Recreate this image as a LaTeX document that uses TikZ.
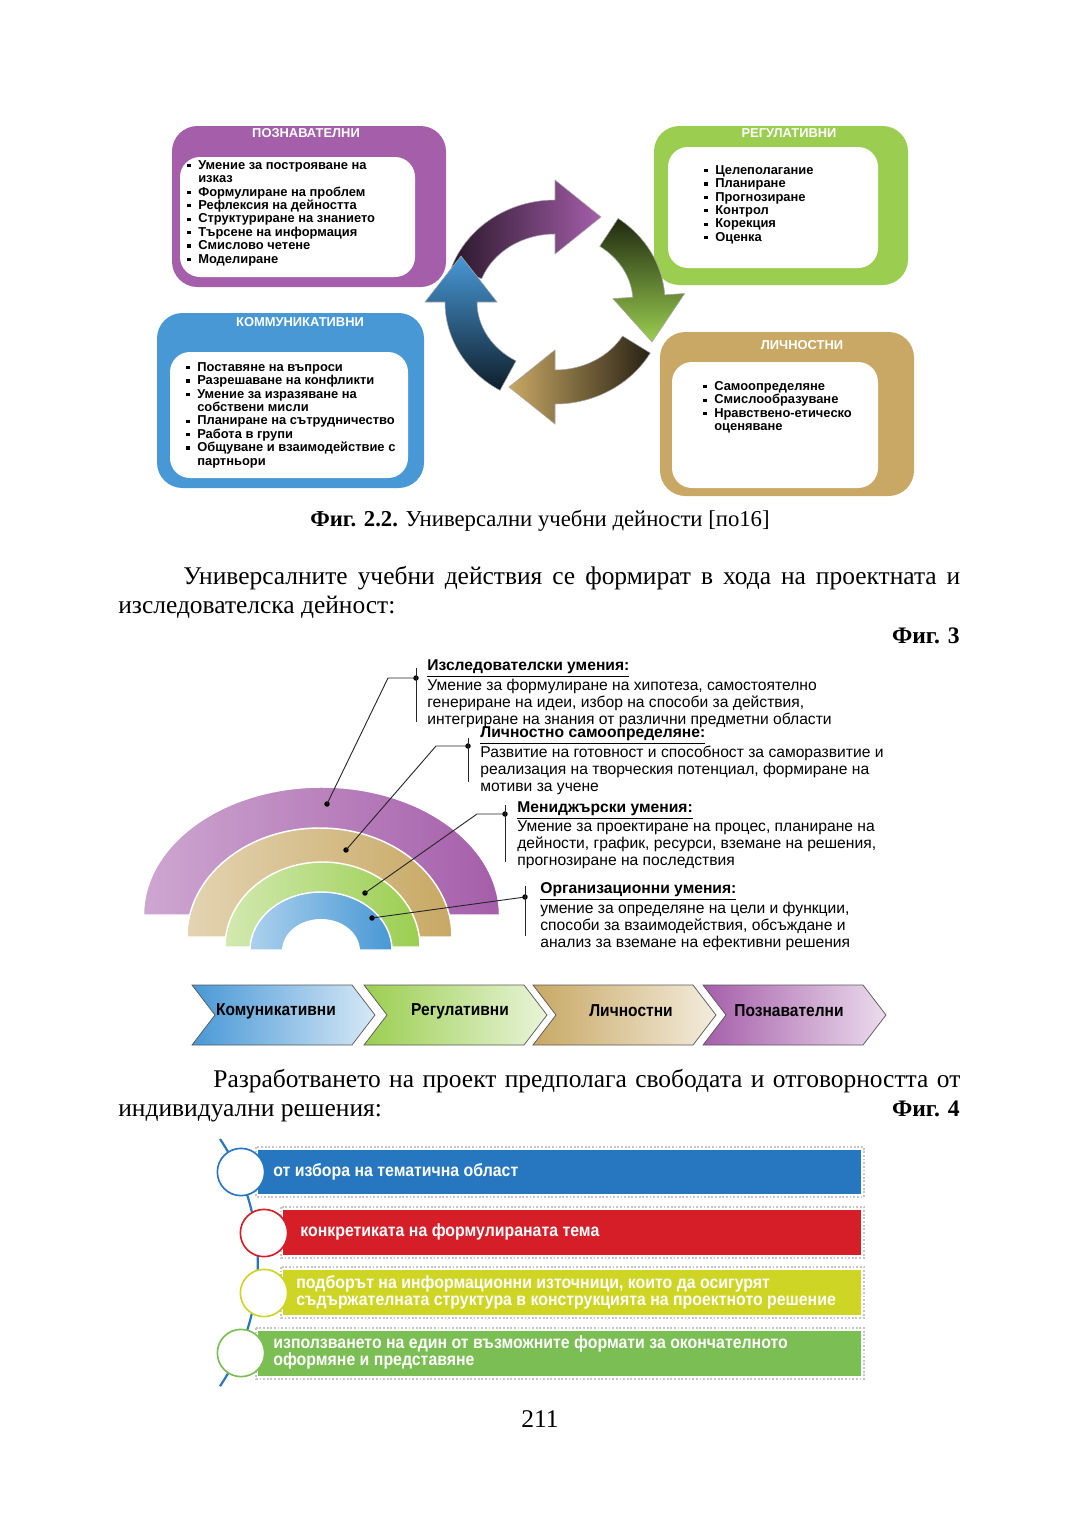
\documentclass[tikz,border=0pt]{standalone}
\usepackage{fontspec}
\setmainfont{Liberation Serif}
\newfontfamily\arialfont{Liberation Sans}
\newfontfamily\narrowfont{Liberation Sans}[FakeStretch=0.9]
\usetikzlibrary{positioning, calc}
\definecolor{PoznPurple}{RGB}{165, 94, 170}
\definecolor{RegGreen}{RGB}{155, 206, 80}
\definecolor{KomBlue}{RGB}{72, 152, 214}
\definecolor{LichTan}{RGB}{200, 168, 100}
\definecolor{BarBlue}{RGB}{38, 118, 192}
\definecolor{BarRed}{RGB}{214, 30, 40}
\definecolor{BarYellow}{RGB}{206, 213, 36}
\definecolor{BarGreen}{RGB}{122, 190, 84}

\tikzset{
  boxouter/.style={fill=#1, rounded corners=14pt},
  boxinner/.style={fill=white, rounded corners=11pt},
  boxtitle/.style={text=white, inner sep=0pt, font=\arialfont\bfseries\fontsize{7.1}{8}\selectfont},
  boxlist/.style={anchor=north west, align=left, inner sep=0pt, font=\arialfont\bfseries\fontsize{7.1}{7.37}\selectfont},
  skilltext/.style={anchor=north west, align=left, inner sep=0pt, font=\arialfont\fontsize{8.6}{9.4}\selectfont},
  calloutline/.style={black!85, line width=0.5pt},
  calloutdot/.style={circle, fill=black, inner sep=0pt, minimum size=3pt},
  chevlabel/.style={inner sep=0pt, font=\narrowfont\bfseries\fontsize{9.5}{11}\selectfont},
  bartext/.style={anchor=west, align=left, inner sep=0pt, text=white, font=\narrowfont\bfseries\fontsize{9.7}{9.35}\selectfont},
  barring/.style={circle, fill=white, draw=#1, line width=0.9pt, minimum size=26pt, inner sep=0pt},
  bodyline/.style={anchor=base west, inner sep=0pt, font=\fontsize{14}{16}\selectfont},
  figlabel/.style={anchor=base east, inner sep=0pt, font=\bfseries\fontsize{13}{16}\selectfont},
}

% square bullet for the lists
\newcommand{\sqb}{\makebox[6pt][l]{\raisebox{1.1pt}{\rule{1.8pt}{1.8pt}}}}
% one arrow of the cycle: tail angle, head angle, shading
\newcommand{\cyclearrow}[3]{%
  \shade[shift={(555,302)}, #3, draw=gray!70, line width=0.3pt]
    (#1:110 and 102) arc[start angle=#1, end angle=#2, x radius=110, y radius=102]
    -- (#2:130 and 122) -- ({94*cos(#2)+46*cos(#2+90)}, {85*sin(#2)+46*sin(#2+90)})
    -- (#2:58 and 48) -- (#2:78 and 68)
    arc[start angle=#2, end angle=#1, x radius=78, y radius=68] -- cycle;}

\begin{document}
\begin{tikzpicture}[x=0.55pt, y=-0.55pt]
  \fill[white] (0,0) rectangle (1080,1536);
  \useasboundingbox (0,0) rectangle (1080,1536);

  % Fig 2.2 -- four boxes
  \fill[boxouter=PoznPurple] (172,126) rectangle (446,287);
  \fill[boxinner] (180,157) rectangle (415,277);
  \fill[boxouter=RegGreen] (654,126) rectangle (908,285);
  \fill[boxinner] (668,147) rectangle (878,268);
  \fill[boxouter=KomBlue] (157,313) rectangle (424,488);
  \fill[boxinner] (170,352) rectangle (408,478);
  \fill[boxouter=LichTan] (660,332) rectangle (914,496);
  \fill[boxinner] (672,362) rectangle (878,488);

  \node[boxtitle] (poznTitle) at (306,133) {ПОЗНАВАТЕЛНИ};
  \node[boxtitle] (regTitle) at (789,133) {РЕГУЛАТИВНИ};
  \node[boxtitle] (komTitle) at (300,322) {КОММУНИКАТИВНИ};
  \node[boxtitle] (lichTitle) at (802,345) {ЛИЧНОСТНИ};

  \node[boxlist] (poznList) at (187,160) {\sqb Умение за построяване на\\ \hspace*{6pt}изказ\\
    \sqb Формулиране на проблем\\ \sqb Рефлексия  на дейността\\ \sqb Структуриране  на знанието\\
    \sqb Търсене на информация\\ \sqb Смислово четене\\ \sqb Моделиране};
  \node[boxlist] (regList) at (704,165) {\sqb Целеполагание\\ \sqb Планиране\\ \sqb Прогнозиране\\
    \sqb Контрол\\ \sqb Корекция\\ \sqb Оценка};
  \node[boxlist] (komList) at (186,362) {\sqb Поставяне на въпроси\\ \sqb Разрешаване на конфликти\\
    \sqb Умение за изразяване на\\ \hspace*{6pt}собствени  мисли\\ \sqb Планиране на сътрудничество\\
    \sqb Работа в групи\\ \sqb Общуване и взаимодействие с\\ \hspace*{6pt}партньори};
  \node[boxlist] (lichList) at (703,381) {\sqb Самоопределяне\\ \sqb Смислообразуване\\
    \sqb Нравствено-етическо\\ \hspace*{6pt}оценяване};

  % cycle in the middle
  \cyclearrow{-160}{-90}{left color=PoznPurple!25!black, right color=PoznPurple}
  \cyclearrow{-55}{-4}{top color=RegGreen!20!black, bottom color=RegGreen}
  \cyclearrow{30}{90}{right color=LichTan!20!black, left color=LichTan}
  \cyclearrow{120}{180}{bottom color=KomBlue!20!black, top color=KomBlue}

  \node[anchor=base, inner sep=0pt, font=\fontsize{12.5}{15}\selectfont] (cap22) at (540,526)
    {\textbf{Фиг. 2.2.} Универсални учебни дейности [по16]};

  \node[bodyline] (par1a) at (183,584) {\makebox[427.35pt][s]{Универсалните учебни действия се формират в хода на проектната и}};
  \node[bodyline] (par1b) at (118,613) {изследователска  дейност:};
  \node[figlabel] (fig3) at (960,643) {Фиг. 3};

  % Fig 3 -- half rings
  \shade[left color=PoznPurple!55!white, right color=PoznPurple, draw=white, line width=0.8pt]
    (143.5,915) arc[start angle=180, end angle=360, x radius=178, y radius=128] -- cycle;
  \shade[left color=LichTan!50!white, right color=LichTan, draw=white, line width=0.8pt]
    (187,937) arc[start angle=180, end angle=360, x radius=132.5, y radius=109] -- cycle;
  \shade[left color=RegGreen!45!white, right color=RegGreen, draw=white, line width=0.8pt]
    (225,947) arc[start angle=180, end angle=360, x radius=97.5, y radius=85] -- cycle;
  \shade[left color=KomBlue!45!white, right color=KomBlue, draw=white, line width=0.8pt]
    (250,950) arc[start angle=180, end angle=360, x radius=71, y radius=58] -- cycle;
  \fill[white] (282,951) arc[start angle=180, end angle=360, x radius=39, y radius=32] -- cycle;

  \node[calloutdot] (d1) at (327,804) {};
  \node[calloutdot] (d2) at (346,850) {};
  \node[calloutdot] (d3) at (365,893) {};
  \node[calloutdot] (d4) at (372,918) {};
  \node[calloutdot] (j1) at (416,678) {};
  \node[calloutdot] (j2) at (468,746) {};
  \node[calloutdot] (j3) at (505,814) {};
  \node[calloutdot] (j4) at (525,897) {};
  \coordinate (k1) at (388,678);
  \coordinate (k2) at (436,746);
  \coordinate (k3) at (477,814);
  \draw[calloutline] (d1.center) -- (k1) -- (j1.center);
  \draw[calloutline] (d2.center) -- (k2) -- (j2.center);
  \draw[calloutline] (d3.center) -- (k3) -- (j3.center);
  \draw[calloutline] (d4.center) -- (j4.center);
  \draw[calloutline] (416,668) -- (416,722);
  \draw[calloutline] (468,738) -- (468,782);
  \draw[calloutline] (505,805) -- (505,862);
  \draw[calloutline] (525,886) -- (525,936);

  \node[skilltext] (research) at (427,659) {\underline{\textbf{Изследователски умения:}}\\
    Умение за формулиране на хипотеза, самостоятелно\\
    генериране на идеи, избор на способи за действия,\\
    интегриране на знания от различни предметни области};
  \node[skilltext] (selfdet) at (480,726) {\underline{\textbf{Личностно самоопределяне:}}\\
    Развитие  на готовност и способност за саморазвитие и\\
    реализация на творческия потенциал, формиране на\\
    мотиви за учене};
  \node[skilltext] (manage) at (517,801) {\underline{\textbf{Мениджърски умения:}}\\
    Умение за проектиране на процес, планиране на\\
    дейности, график, ресурси, вземане на решения,\\
    прогнозиране на последствия};
  \node[skilltext] (organize) at (540,882) {\underline{\textbf{Организационни умения:}}\\
    умение за определяне на цели и функции,\\
    способи  за взаимодействия, обсъждане и\\
    анализ за вземане на  ефективни решения};

  % chevron row
  \foreach \cx/\cl/\lx/\lab [count=\n] in {192/KomBlue/276/Комуникативни, 364/RegGreen/460/Регулативни,
      533/LichTan/631/Личностни, 703/PoznPurple/789/Познавателни} {
    \shade[left color=\cl, right color=\cl!22!white, draw=gray!70!black, line width=0.4pt]
      (\cx,985) -- ++(160,0) -- ++(23,30) -- ++(-23,30) -- ++(-160,0) -- ++(23,-30) -- cycle;
    \node[chevlabel] (chev\n) at (\lx,1011) {\lab};
  }

  \node[bodyline] (par2a) at (213,1087) {\makebox[410.85pt][s]{Разработването на проект предполага свободата и отговорността от}};
  \node[bodyline] (par2b) at (118,1116) {индивидуални  решения:};
  \node[figlabel] (fig4) at (960,1116) {Фиг.  4};

  % Fig 4 -- bars
  \draw[BarBlue, line width=1.2pt] (220,1139) arc[start angle=-34, end angle=34, radius=221];
  \foreach \xa/\ya/\yb/\cl in {258/1150/1194/BarBlue, 283/1210/1255/BarRed,
      283/1270/1315/BarYellow, 258/1331/1376/BarGreen} {
    \draw[gray!45, densely dotted, line width=1pt] (\xa-2,\ya-3) rectangle (864,\yb+3);
    \fill[\cl] (\xa,\ya) rectangle (861,\yb);
  }
  \node[barring=BarBlue] (c1) at (241,1172) {};
  \node[barring=BarRed] (c2) at (264,1233) {};
  \node[barring=BarYellow] (c3) at (264,1293) {};
  \node[barring=BarGreen] (c4) at (241,1353) {};

  \node[bartext] (t1) at (273,1172) {от избора на тематична област};
  \node[bartext] (t2) at (300,1232) {конкретиката на формулираната тема};
  \node[bartext] (t3) at (296,1292) {подборът на информационни  източници,  които да осигурят\\
    съдържателната  структура в конструкцията на проектното решение};
  \node[bartext] (t4) at (273,1352) {използването на един от възможните  формати  за окончателното\\
    оформяне и представяне};

  \node[anchor=base, inner sep=0pt, font=\fontsize{14}{16}\selectfont] (pageno) at (540,1427) {211};
\end{tikzpicture}
\end{document}
